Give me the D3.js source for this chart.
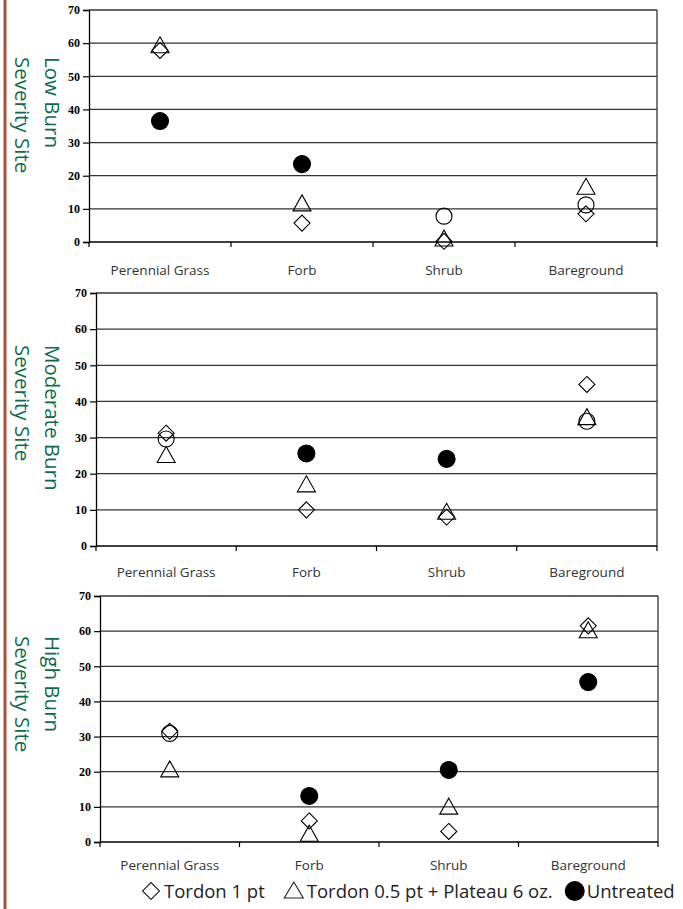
<!DOCTYPE html>
<html><head><meta charset="utf-8">
<script src="https://cdn.jsdelivr.net/npm/d3@7"></script>
<style>body{margin:0;background:#fff}</style>
</head><body>
<svg id="c" width="683" height="909"></svg>
<script>
const categories = ["Perennial Grass","Forb","Shrub","Bareground"];
const yTicks = [0,10,20,30,40,50,60,70];
const siteLabels = [["Low Burn","Severity Site"],["Moderate Burn","Severity Site"],["High Burn","Severity Site"]];
// values per site, per category
const tordon1 = [[57.8,5.7,0.2,8.5],[31.2,10,8,44.7],[31.5,6,3,61.5]];
const tordonPlateau = [[59.5,11.8,1.2,16.8],[25.3,17.2,9.6,35.8],[20.8,2.5,10.2,60.4]];
const untreated = [[36.5,23.5,7.8,11.2],[29.6,25.6,24.1,34.5],[30.9,13.1,20.5,45.5]];
const untreatedFilled = [[1,1,0,0],[0,1,1,0],[0,1,1,1]];
const legendLabels = ["Tordon 1 pt","Tordon 0.5 pt + Plateau 6 oz.","Untreated"];

const svg = d3.select("#c");
svg.append("line").attr("x1",5).attr("x2",5).attr("y1",0).attr("y2",909)
  .attr("stroke","#a5533a").attr("stroke-width",3);

const panels = [
  {left:89, right:657, top:10, bottom:242, labY:275, titleY:57},
  {left:96, right:657, top:293, bottom:546, labY:577, titleY:345},
  {left:100, right:658, top:596, bottom:842, labY:870, titleY:636}
];
const sans = "'Open Sans','Noto Sans',sans-serif";

const diamond = r => `M0,${-r}L${r},0L0,${r}L${-r},0Z`;
const triangle = (w,h) => `M0,${-h/2}L${w/2},${h/2}L${-w/2},${h/2}Z`;

panels.forEach((p,i)=>{
  const g = svg.append("g");
  const x = d3.scaleBand().domain(categories).range([p.left,p.right]);
  const y = d3.scaleLinear().domain([0,70]).range([p.bottom,p.top]);
  // gridlines
  g.selectAll("line.grid").data(yTicks.filter(t=>t>0)).join("line")
    .attr("x1",p.left).attr("x2",p.right).attr("y1",d=>y(d)).attr("y2",d=>y(d))
    .attr("stroke","#333").attr("stroke-width",1.3);
  g.append("line").attr("x1",p.right).attr("x2",p.right).attr("y1",p.top).attr("y2",p.bottom)
    .attr("stroke","#333").attr("stroke-width",1.3);
  // y axis
  const ya = g.append("g").attr("transform",`translate(${p.left},0)`)
    .call(d3.axisLeft(y).tickValues(yTicks).tickSize(6).tickPadding(3));
  ya.select(".domain").attr("stroke","#000").attr("stroke-width",1.3);
  ya.selectAll(".tick line").attr("stroke","#000").attr("stroke-width",1.2);
  ya.selectAll(".tick text").attr("font-family","'Liberation Serif','Times New Roman',serif")
    .attr("font-weight","bold").attr("font-size",12).attr("fill","#000");
  // x axis
  g.append("line").attr("x1",p.left).attr("x2",p.right).attr("y1",p.bottom).attr("y2",p.bottom)
    .attr("stroke","#000").attr("stroke-width",1.3);
  const bounds = [0,1,2,3,4].map(k=>p.left + k*x.step());
  g.selectAll("line.xt").data(bounds).join("line")
    .attr("x1",d=>d).attr("x2",d=>d).attr("y1",p.bottom).attr("y2",p.bottom+5)
    .attr("stroke","#000").attr("stroke-width",1.2);
  g.selectAll("text.cat").data(categories).join("text")
    .attr("x",d=>x(d)+x.bandwidth()/2).attr("y",p.labY)
    .attr("text-anchor","middle").attr("font-family",sans)
    .attr("font-size",13.5).attr("fill","#333").text(d=>d);
  // site label (rotated, reading downward, start-aligned)
  [[53,siteLabels[i][0]],[23,siteLabels[i][1]]].forEach(([lx,txt])=>{
    g.append("text").attr("transform",`translate(${lx},${p.titleY}) rotate(90)`)
      .attr("text-anchor","start").attr("dominant-baseline","central")
      .attr("font-family",sans).attr("font-size",20.5).attr("fill","#0b6b4c").text(txt);
  });

  const cx = c => x(c)+x.bandwidth()/2;
  // untreated circles
  g.selectAll("circle.u").data(categories).join("circle")
    .attr("cx",cx).attr("cy",(d,k)=>y(untreated[i][k])).attr("r",(d,k)=>untreatedFilled[i][k]?8.5:8)
    .attr("fill",(d,k)=>untreatedFilled[i][k]?"#000":"none")
    .attr("stroke","#000").attr("stroke-width",1.1);
  // triangles
  g.selectAll("path.t").data(categories).join("path")
    .attr("transform",(d,k)=>`translate(${cx(d)},${y(tordonPlateau[i][k])})`)
    .attr("d",triangle(18,16)).attr("fill","none").attr("stroke","#000").attr("stroke-width",1.1);
  // diamonds
  g.selectAll("path.d").data(categories).join("path")
    .attr("transform",(d,k)=>`translate(${cx(d)},${y(tordon1[i][k])})`)
    .attr("d",diamond(8)).attr("fill","none").attr("stroke","#000").attr("stroke-width",1.1);
});

// legend, laid out left to right
const lg = svg.append("g").attr("font-family",sans).attr("font-size",18.5).attr("fill","#222");
const ly = 891, lb = 898;
let cur = 143;
lg.append("path").attr("transform",`translate(${cur+8},${ly})`).attr("d",diamond(8.5)).attr("fill","none").attr("stroke","#222").attr("stroke-width",1.1);
cur += 16 + 5;
let t1 = lg.append("text").attr("x",cur).attr("y",lb).text(legendLabels[0]);
cur += t1.node().getComputedTextLength() + 20;
lg.append("path").attr("transform",`translate(${cur+9},${ly-1})`).attr("d",triangle(19,16)).attr("fill","none").attr("stroke","#222").attr("stroke-width",1.1);
cur += 18 + 4;
let t2 = lg.append("text").attr("x",cur).attr("y",lb).text(legendLabels[1]);
cur += t2.node().getComputedTextLength() + 12;
lg.append("circle").attr("cx",cur+10).attr("cy",ly).attr("r",10).attr("fill","#000");
cur += 20 + 2;
lg.append("text").attr("x",cur).attr("y",lb).text(legendLabels[2]);
</script>
</body></html>
